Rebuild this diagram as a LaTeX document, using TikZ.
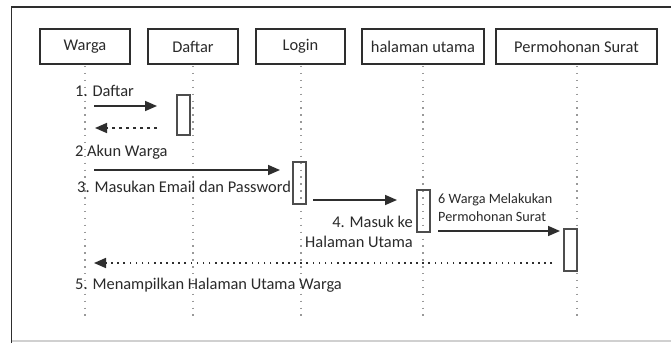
\documentclass[tikz,border=0pt]{standalone}
\usepackage{fontspec}
\setmainfont{Carlito}
\usetikzlibrary{arrows.meta}

\definecolor{ink}{HTML}{2E2E2E}
\definecolor{txt}{HTML}{2A2A2A}
\definecolor{life}{HTML}{999999}
\definecolor{rim}{HTML}{D0D0D0}

\begin{document}
\begin{tikzpicture}[x=1pt,y=-1pt,
  actor/.style={draw=ink,line width=1.8pt,minimum height=35pt,inner sep=0pt,
                font=\fontsize{16.4}{18}\selectfont,text=txt},
  actbar/.style={draw=ink!85,line width=1.5pt,minimum width=13pt,inner sep=0pt},
  lifeline/.style={life,line width=1.4pt,dash pattern=on 1.4pt off 5.5pt},
  msg/.style={ink,line width=1.6pt,-{Triangle[length=12pt,width=10pt]}},
  reply/.style={msg,dash pattern=on 3pt off 4pt},
  replydot/.style={msg,dash pattern=on 1.6pt off 4.5pt},
  lbl/.style={inner sep=0pt,text=txt,font=\fontsize{16.4}{18}\selectfont},
  lblsmall/.style={inner sep=0pt,text=txt,font=\fontsize{14.2}{16}\selectfont}]

  % page and frame
  \useasboundingbox (0,0) rectangle (671,343);
  \fill[white] (0,0) rectangle (671,343);
  \draw[rim,line width=1.5pt] (11,341) -- (671,341);
  \draw[ink,line width=1.8pt] (11.5,343) -- (11.5,7) -- (671,7);

  % participants
  \node[actor,minimum width=90pt]  (warga)  at (85,46.5)   {Warga};
  \node[actor,minimum width=90pt]  (daftar) at (193,46.5)  {Daftar};
  \node[actor,minimum width=89pt]  (login)  at (300.5,46.5) {Login};
  \node[actor,minimum width=122pt] (utama)  at (423,46.5)  {halaman utama};
  \node[actor,minimum width=161pt] (surat)  at (576.5,46.5) {Permohonan Surat};

  % lifelines
  \foreach \p/\x in {warga/85,daftar/193,login/301,utama/423,surat/577}{
    \coordinate (\p-end) at (\x,316);
    \draw[lifeline] (\x,66) -- (\p-end);
  }

  % activation bars
  \node[actbar,minimum height=40pt] (barDaftar) at (183.5,115) {};
  \node[actbar,minimum height=42pt] (barLogin)  at (299.5,183) {};
  \node[actbar,minimum height=42pt] (barUtama)  at (423.5,211) {};
  \node[actbar,minimum height=42pt] (barSurat)  at (570.5,250) {};

  % message end points
  \coordinate (m1a) at (94,106);   \coordinate (m1b) at (157,106);
  \coordinate (r1a) at (157,128);  \coordinate (r1b) at (95,128);
  \coordinate (m2a) at (94,170);   \coordinate (m2b) at (280,170);
  \coordinate (m4a) at (313,200);  \coordinate (m4b) at (397,200);
  \coordinate (m6a) at (438,231);  \coordinate (m6b) at (560,231);
  \coordinate (r5a) at (552,263);  \coordinate (r5b) at (94,263);

  % messages
  \draw[msg] (m1a) -- (m1b);
  \draw[reply] (r1a) -- (r1b);
  \draw[msg] (m2a) -- (m2b);
  \draw[msg] (m4a) -- (m4b);
  \draw[msg] (m6a) -- (m6b);
  \draw[replydot] (r5a) -- (r5b);

  % message labels
  \node[lbl,anchor=west] (t1) at (75,91)  {1. Daftar};
  \node[lbl,anchor=west] (t2) at (75,152) {2 Akun Warga};
  \node[lbl,anchor=west] (t3) at (77,187) {3. Masukan Email dan Password};
  \node[lbl,anchor=east] (t4a) at (413,222) {4. Masuk ke};
  \node[lbl,anchor=east] (t4b) at (413,242) {Halaman Utama};
  \node[lblsmall,anchor=west] (t6a) at (438,200) {6 Warga Melakukan};
  \node[lblsmall,anchor=west] (t6b) at (438,217) {Permohonan Surat};
  \node[lbl,anchor=west] (t5) at (75,285) {5. Menampilkan Halaman Utama Warga};
\end{tikzpicture}
\end{document}
